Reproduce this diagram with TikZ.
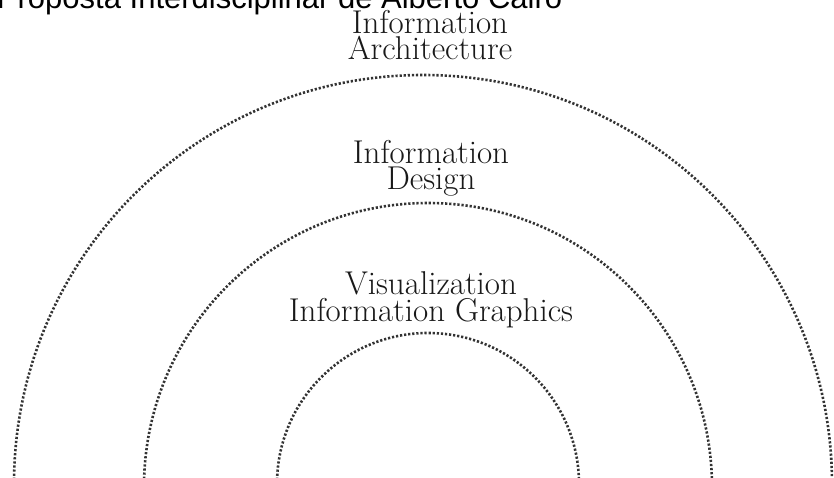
\documentclass[tikz,border=0pt]{standalone}
\usepackage{fontspec}
\newfontfamily\titlefont{Liberation Sans}
\usetikzlibrary{positioning}
\tikzstyle{every node}=[inner sep=0pt,outer sep=0pt]
\tikzstyle{ring}=[draw=black!80,line width=2.6pt,dash pattern=on 2.2pt off 1.9pt]
\tikzstyle{field}=[align=center,text=black!90,font=\fontsize{33}{26.5}\selectfont]

\begin{document}
\begin{tikzpicture}[x=1pt,y=1pt]
  \useasboundingbox (0,0) rectangle (834,-478);
  \clip (0,0) rectangle (834,-478);

  \node[anchor=base west,font=\titlefont\fontsize{31}{31}\selectfont] (title) at (-3,-9)
    {Proposta Interdisciplinar de Alberto Cairo};

  \draw[ring] (14,-484) arc[start angle=180,end angle=0,radius=409];
  \draw[ring] (144,-487) arc[start angle=180,end angle=0,radius=284];
  \draw[ring] (277,-484) arc[start angle=180,end angle=0,radius=151];

  \node[field,anchor=base] (arch) at (430,-60) {Information\\Architecture};
  \node[field,anchor=base] (design) at (431,-190) {Information\\Design};
  \node[field,anchor=base] (vis) at (431,-321) {Visualization\\Information Graphics};

\end{tikzpicture}
\end{document}
